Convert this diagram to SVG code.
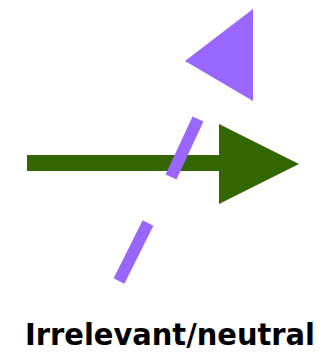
<svg xmlns="http://www.w3.org/2000/svg" width="325" height="352" viewBox="0 0 325 352">
<style>
.green{fill:#336600}
.purple{fill:#9966ff}
.dash{stroke:#9966ff;stroke-width:12;fill:none}
.label{font-family:"DejaVu Sans Condensed","DejaVu Sans",sans-serif;font-weight:bold;font-size:31px;fill:#000}
</style>
<rect width="325" height="352" fill="#fff"/>
<g id="connectors">
<rect class="green" x="27" y="155" width="193" height="16"/>
<polygon class="green" points="219,124 299,164 219,204"/>
<line class="dash" x1="198" y1="119" x2="171" y2="177"/>
<line class="dash" x1="148" y1="223" x2="119" y2="281"/>
</g>
<g id="purple-head">
<polygon class="purple" points="185,61 253,9 253,101"/>
</g>
<g id="label">
<text class="label" x="25" y="345" textLength="290" lengthAdjust="spacingAndGlyphs">Irrelevant/neutral</text>
</g>
</svg>
